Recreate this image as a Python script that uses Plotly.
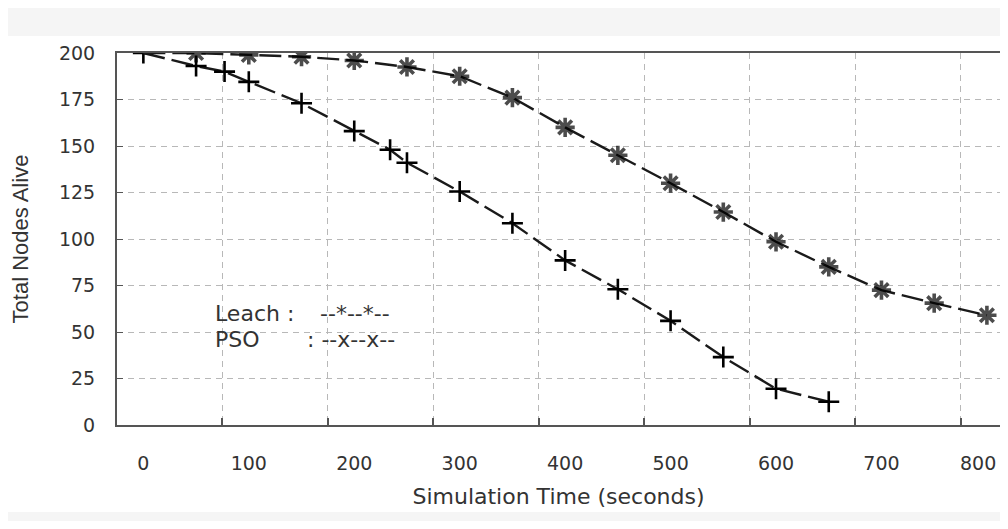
import plotly.graph_objects as go

# ---- data ----
leach_x = [0, 50, 100, 150, 200, 250, 300, 350, 400, 450, 500, 550, 600, 650, 700, 750, 800]
leach_y = [200, 200, 199, 198, 196, 192.5, 187.5, 176, 160, 145, 130, 114.5, 98.5, 85, 72.5, 65.5, 59]

pso_x = [0, 50, 77, 100, 150, 200, 234, 250, 300, 350, 400, 450, 500, 550, 600, 650]
pso_y = [200, 193, 190, 184.5, 173, 158, 148, 141, 125.5, 108.5, 88.5, 73, 56, 36.5, 19.5, 12.5]

x_ticks = [0, 100, 200, 300, 400, 500, 600, 700, 800]
x_tick_labels = ["0", "100", "200", "300", "400", "500", "600", "700", "800"]
x_grid = [75, 175, 275, 375, 475, 575, 675, 775]
y_ticks = [0, 25, 50, 75, 100, 125, 150, 175, 200]

# page body has an 8px margin; figure occupies page pixels 8..1000 x 8..521
OFF = 8
W, H = 992, 513
ML, MR, MT = 117 - OFF, 0, 53 - OFF
MB = H - (425 - OFF)
PW, PH = W - ML - MR, H - MT - MB
X0 = -25.0
X_PER_PX = 845.0 / 891.0
X1 = X0 + PW * X_PER_PX

def px_x(p):
    return (p - OFF - ML) / PW

def px_y(p):
    return (H - MB - (p - OFF)) / PH

FONT = "DejaVu Sans, Liberation Sans, Arial, sans-serif"
INK = "#1a1a1a"
TXT = "#333333"

fig = go.Figure()

fig.add_trace(go.Scatter(
    x=pso_x, y=pso_y, mode="lines+markers", name="PSO",
    line=dict(color=INK, width=2.4, dash="22px,7px"),
    marker=dict(symbol="cross-thin-open", size=15, color="#000000",
                line=dict(color="#000000", width=2.6)),
    showlegend=False,
))
fig.add_trace(go.Scatter(
    x=leach_x, y=leach_y, mode="lines+markers", name="Leach",
    line=dict(color=INK, width=2.4, dash="22px,7px"),
    marker=dict(symbol="asterisk-open", size=[0] + [16] * (len(leach_x) - 1),
                color="#000000", line=dict(color="#000000", width=3.6)),
    showlegend=False,
))

# legend as text (as in the reference)
legend_font = dict(family=FONT, size=22, color=TXT)
for txt, xp, yp in [("Leach :", 213, 313), ("--*--*--", 318, 313),
                    ("PSO", 213, 339), (": --x--x--", 305, 339)]:
    fig.add_annotation(x=px_x(xp), y=px_y(yp), xref="paper", yref="paper",
                       text=txt, showarrow=False, xanchor="left", yanchor="middle",
                       font=legend_font)

# last x tick label sits at the cropped right edge, shifted left as in the reference
fig.add_annotation(x=x_ticks[-1], y=px_y(463), xref="x", yref="paper",
                   text=x_tick_labels[-1], showarrow=False, xanchor="center",
                   yanchor="middle", xshift=-9,
                   font=dict(family=FONT, size=19, color=TXT))

# faint grey scan bands at top and bottom
fig.add_shape(type="rect", xref="paper", yref="paper",
              x0=px_x(0), x1=px_x(1010), y0=px_y(36), y1=px_y(0),
              fillcolor="#f5f5f5", line_width=0, layer="below")
fig.add_shape(type="rect", xref="paper", yref="paper",
              x0=px_x(0), x1=px_x(1010), y0=px_y(535), y1=px_y(512),
              fillcolor="#f5f5f5", line_width=0, layer="below")

fig.update_layout(
    width=W, height=H,
    margin=dict(l=ML, r=MR, t=MT, b=MB),
    paper_bgcolor="white", plot_bgcolor="white",
    font=dict(family=FONT, size=18, color=TXT),
    xaxis=dict(
        range=[X0, X1], tickmode="array", tickvals=x_ticks,
        ticktext=x_tick_labels[:-1] + [""],
        ticks="", showgrid=False, zeroline=False,
        showline=True, linecolor="#555555", linewidth=2, mirror=True,
        tickfont=dict(family=FONT, size=19, color=TXT),
        ticklabelstandoff=20,
        minor=dict(tickmode="array", tickvals=x_grid, ticks="inside", ticklen=7,
                   tickcolor="#555555", tickwidth=1.5,
                   showgrid=True, gridcolor="#b8b8b8", gridwidth=1, griddash="6px,5px"),
        title=dict(text="Simulation Time (seconds)", standoff=16,
                   font=dict(family=FONT, size=22, color=TXT)),
    ),
    yaxis=dict(
        range=[0, 200], tickmode="array", tickvals=y_ticks,
        ticks="inside", ticklen=6, tickcolor="#555555",
        showgrid=True, gridcolor="#b8b8b8", gridwidth=1, griddash="6px,5px",
        zeroline=False, showline=True, linecolor="#555555", linewidth=2,
        tickfont=dict(family=FONT, size=19, color=TXT),
        ticklabelstandoff=16,
        title=dict(text="Total Nodes Alive", standoff=24,
                   font=dict(family="Liberation Sans, Arial, sans-serif", size=22, color=TXT)),
    ),
)

fig.write_html("out.html")
